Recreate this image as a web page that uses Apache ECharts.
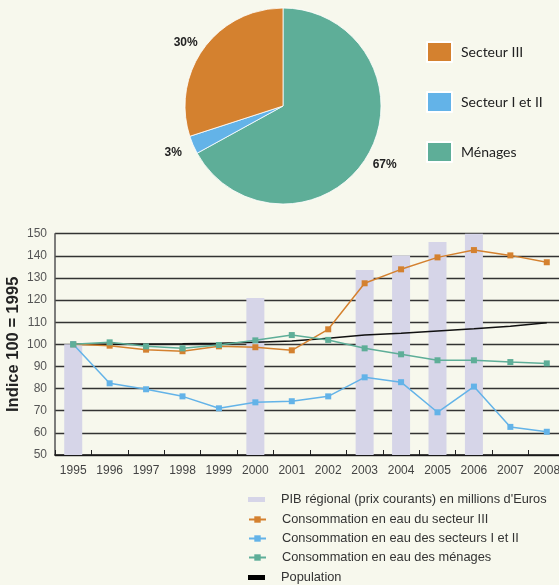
<!DOCTYPE html>
<html>
<head>
<meta charset="utf-8">
<script src="https://cdn.jsdelivr.net/npm/echarts@6/dist/echarts.min.js"></script>
<style>
html,body{margin:0;padding:0;background:#f7f8ed;}
#c{width:559px;height:585px;}
</style>
</head>
<body>
<div id="c"></div>
<script>
// ---- data ----
var pieNames = ['Ménages', 'Secteur I et II', 'Secteur III'];
var pieValues = [67, 3, 30];
var pieLegendOrder = ['Secteur III', 'Secteur I et II', 'Ménages'];

var years = ['1995','1996','1997','1998','1999','2000','2001','2002','2003','2004','2005','2006','2007','2008'];
var pib = [100, null, null, null, null, 121, null, null, 133.6, 140.1, 146.2, 151.2, null, null];
var secteur3 = [100, 99.4, 97.6, 96.9, 99.1, 98.7, 97.3, 106.8, 127.6, 133.9, 139.3, 142.6, 140.2, 137.1];
var secteurs12 = [100, 82.4, 79.7, 76.5, 71.1, 73.8, 74.3, 76.5, 85.1, 82.9, 69.3, 80.9, 62.7, 60.5];
var menages = [100, 100.9, 99.1, 98.2, 99.7, 101.8, 104.2, 102.0, 98.2, 95.5, 92.8, 92.8, 92.0, 91.4];
var population = [100, 100.1, 100.2, 100.3, 100.5, 100.9, 101.5, 102.8, 104.2, 105.0, 106.0, 107.0, 108.2, 109.8];
var yTicks = {min: 50, max: 150, interval: 10};

var nPIB = "PIB régional (prix courants) en millions d'Euros";
var nS3 = 'Consommation en eau du secteur III';
var nS12 = 'Consommation en eau des secteurs I et II';
var nMen = 'Consommation en eau des ménages';
var nPop = 'Population';

var cOrange = '#d4812f', cBlue = '#63b3e8', cGreen = '#5eae98', cBar = '#d6d5e8';

// small text nudges for the pie percentage labels (by slice index)
var pieLabelNudge = [[-4, 6], [2, 4], [3, -3]];

var chart = echarts.init(document.getElementById('c'), null, {renderer: 'canvas'});
var legendText = {fontFamily: 'Liberation Sans', fontSize: 12.8, color: '#333', padding: [0, 0, 0, 11]};

chart.setOption({
  backgroundColor: '#f7f8ed',
  animation: false,
  legend: [
    {
      data: pieLegendOrder, orient: 'vertical', left: 421, top: 36,
      itemWidth: 25, itemHeight: 20, itemGap: 28, icon: 'rect',
      textStyle: {fontFamily: 'Lato', fontSize: 14, color: '#222', padding: [0, 0, 0, 4]}
    },
    {
      data: [{name: nPIB, icon: 'rect', itemStyle: {color: cBar}}], orient: 'vertical', left: 243, top: 488,
      itemWidth: 17, itemHeight: 5, textStyle: legendText
    },
    {
      data: [nS3, nS12, nMen], orient: 'vertical', left: 243, top: 508,
      itemWidth: 17, itemHeight: 8, itemGap: 6, textStyle: legendText
    },
    {
      data: [nPop], orient: 'vertical', left: 243, top: 566,
      itemWidth: 17, itemHeight: 5, icon: 'rect', textStyle: legendText
    }
  ],
  grid: {left: 55, top: 233.7, width: 510, height: 221.3, containLabel: false, outerBoundsMode: 'none'},
  xAxis: {
    type: 'category', data: years, boundaryGap: true,
    axisLine: {lineStyle: {color: '#111', width: 1.5}},
    axisTick: {show: true, inside: true, length: 5, lineStyle: {color: '#222', width: 1}},
    axisLabel: {fontFamily: 'Liberation Sans', fontSize: 12, color: '#444', margin: 10}
  },
  yAxis: {
    type: 'value', min: yTicks.min, max: yTicks.max, interval: yTicks.interval,
    name: 'Indice 100 = 1995', nameLocation: 'middle', nameGap: 33, nameMoveOverlap: false,
    nameTextStyle: {fontFamily: 'Liberation Sans', fontSize: 16.5, fontWeight: 'bold', color: '#222'},
    axisLine: {show: true, lineStyle: {color: '#555', width: 1.5}},
    axisTick: {show: false},
    axisLabel: {fontFamily: 'Liberation Sans', fontSize: 12, color: '#555', margin: 8},
    splitLine: {lineStyle: {color: '#333', width: 1.3}}
  },
  series: [
    {
      type: 'pie', name: 'Répartition', center: [283, 106], radius: 98,
      startAngle: 90, clockwise: true,
      data: pieNames.map(function (n, i) {
        var d = {name: n, value: pieValues[i]};
        if (n === 'Secteur I et II') d.labelLine = {show: false, length: 9, length2: 0};
        return d;
      }),
      color: [cGreen, cBlue, cOrange],
      itemStyle: {borderColor: '#ffffff', borderWidth: 0.8},
      label: {show: true, position: 'outside', formatter: '{c}%',
        fontFamily: 'Liberation Sans', fontSize: 12, fontWeight: 'bold', color: '#222'},
      labelLine: {show: false, length: 5, length2: 0},
      labelLayout: function (p) {
        var n = pieLabelNudge[p.dataIndex] || [0, 0];
        return {dx: n[0], dy: n[1]};
      },
      emphasis: {disabled: true}
    },
    {
      type: 'bar', name: nPIB, data: pib, barWidth: 18, clip: true,
      itemStyle: {color: cBar}, z: 1
    },
    {
      type: 'line', name: nPop, data: population, symbol: 'none',
      lineStyle: {color: '#111', width: 1.5}, itemStyle: {color: '#000'}, z: 3
    },
    {
      type: 'line', name: nS3, data: secteur3, symbol: 'rect', symbolSize: 6,
      lineStyle: {color: cOrange, width: 1.5}, itemStyle: {color: cOrange}, z: 4
    },
    {
      type: 'line', name: nS12, data: secteurs12, symbol: 'rect', symbolSize: 6,
      lineStyle: {color: cBlue, width: 1.5}, itemStyle: {color: cBlue}, z: 4
    },
    {
      type: 'line', name: nMen, data: menages, symbol: 'rect', symbolSize: 6,
      lineStyle: {color: cGreen, width: 1.5}, itemStyle: {color: cGreen}, z: 4
    }
  ]
});
</script>
</body>
</html>
